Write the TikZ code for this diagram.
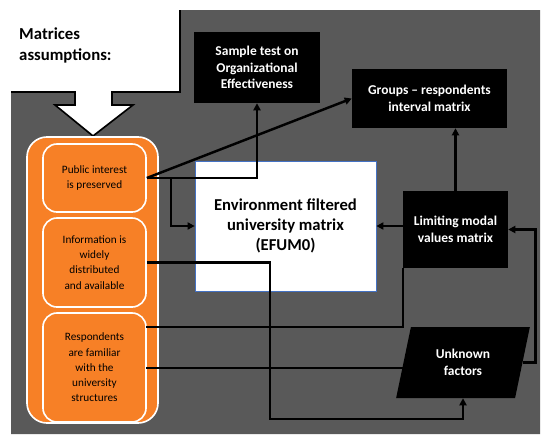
\documentclass[tikz,border=0pt]{standalone}
\usepackage{fontspec}
\setmainfont{Carlito}
\usetikzlibrary{arrows.meta,shapes.geometric}
\definecolor{bggray}{RGB}{89,89,89}
\definecolor{orfill}{RGB}{247,128,38}
\definecolor{efblue}{RGB}{68,114,196}
\begin{document}
\begin{tikzpicture}[x=0.03cm,y=-0.03cm,
  blackbox/.style={fill=black, text=white, font=\bfseries\fontsize{11.5}{14}\selectfont, align=center, inner sep=0pt},
  orbox/.style={fill=orfill, draw=white, line width=1.4pt, rounded corners=0.42cm, align=center, font=\fontsize{9.6}{13}\selectfont, inner sep=0pt, minimum width=3.09cm},
  conn/.style={line width=2.1pt},
  arr/.style={conn, -{Triangle[length=6pt,width=6pt]}},
]
\useasboundingbox (0,0) rectangle (550,448);
% gray background with white block arrow cut out
\fill[bggray] (11,92) -- (75,92) -- (75,105) -- (55,105) -- (93,136) -- (133,105) -- (112,105) -- (112,92) -- (180,92) -- (180,10) -- (540,10) -- (540,434) -- (11,434) -- cycle;
\draw[line width=1.4pt, line join=miter] (11,92) -- (75,92) -- (75,105) -- (55,105) -- (93,136) -- (133,105) -- (112,105) -- (112,92) -- (180,92) -- (180,10);
\node[anchor=west, align=left, inner sep=0pt, font=\bfseries\fontsize{14.3}{18}\selectfont] (title) at (19,45) {Matrices\\assumptions:};

% orange group
\node[orbox, rounded corners=0.6cm, minimum width=3.93cm, minimum height=8.58cm] (outer) at (92.5,280) {};
\node[orbox, minimum height=2.04cm] (b1) at (94.5,178) {Public interest\\is preserved};
\node[orbox, minimum height=2.67cm] (b2) at (94.5,262.5) {Information is\\widely\\distributed\\and available};
\node[orbox, minimum height=3.27cm] (b3) at (94.5,367.5) {Respondents\\are familiar\\with the\\university\\structures};

% main nodes
\node[blackbox, minimum width=3.78cm, minimum height=2.13cm] (sample) at (257,67.5) {Sample test on\\Organizational\\Effectiveness};
\node[blackbox, minimum width=4.65cm, minimum height=1.77cm] (groups) at (429.5,98.5) {Groups – respondents\\interval matrix};
\node[fill=white, draw=efblue, line width=0.6pt, align=center, inner sep=0pt, minimum width=5.43cm, minimum height=3.9cm, font=\bfseries\fontsize{14.2}{17.4}\selectfont] (efum) at (285.5,226) {Environment filtered\\university matrix\\(EFUM0)};
\node[blackbox, minimum width=3.15cm, minimum height=2.31cm] (limit) at (455.5,229.5) {Limiting modal\\values matrix};
\node[blackbox, trapezium, trapezium left angle=73.5, trapezium right angle=106.5, trapezium stretches=true, minimum width=4.02cm, minimum height=2.13cm] (unknown) at (463,362.5) {Unknown\\factors};

% connector points on the respondents box
\coordinate (b3a) at (146,327);
\coordinate (b3b) at (146,368);
\coordinate (c2) at (270,419);

% connectors
\draw[arr] (b1.east) -- (groups.west);
\draw[arr] (b1.east) -| (sample.south);
\draw[arr] (b1.east) -- ++(24,0) |- (efum.west);
\draw[arr] (b2.east) -| (c2) -| (unknown.south);
\draw[conn] (b3a) -| (limit.south west);
\draw[conn] (b3b) -- (b3b -| unknown.west);
\draw[arr] (unknown.east) -- ++(13,0) |- (limit.east);
\draw[arr] (limit.north) -- (limit.north |- groups.south);
\draw[arr] (limit.west |- efum.east) -- (efum.east);
\end{tikzpicture}
\end{document}
